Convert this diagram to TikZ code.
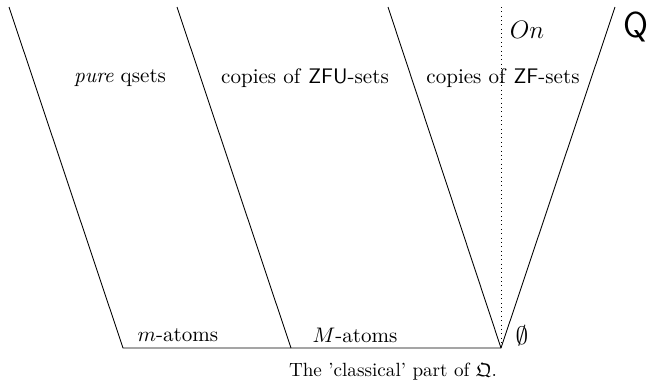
\documentclass[tikz,border=0pt]{standalone}
\usepackage{amssymb}
\begin{document}
\begin{tikzpicture}[x=0.0202cm,y=-0.0202cm,
  edge/.style={line width=0.5pt},
  lbl/.style={inner sep=0pt, scale=1.21},
  captionlbl/.style={inner sep=0pt, scale=1.1}]
\useasboundingbox (0,0) rectangle (650,381);
\coordinate (a1) at (9,7);
\coordinate (a2) at (123,348);
\coordinate (b1) at (177,7);
\coordinate (b2) at (291,348);
\coordinate (c1) at (388,7);
\coordinate (c2) at (501,348);
\coordinate (d1) at (615,7);
\coordinate (e1) at (501,7);
\draw[edge] (a1) -- (a2) -- (c2) -- (d1);
\draw[edge] (b1) -- (b2);
\draw[edge] (c1) -- (c2);
\draw[edge, dotted] (e1) -- (c2);
\node[lbl] (pq) at (120,78) {\textit{pure} qsets};
\node[lbl] (zfu) at (305,78) {copies of \textsf{ZFU}-sets};
\node[lbl] (zf) at (503,78) {copies of \textsf{ZF}-sets};
\node[lbl] (on) at (527,30) {\large $On$};
\node[inner sep=0pt] (q) at (636,27) {\huge\textsf{Q}};
\node[lbl] (ma) at (178,335) {$m$-atoms};
\node[lbl] (MA) at (355,335) {$M$-atoms};
\node[lbl] (es) at (522,336) {\large $\emptyset$};
\node[captionlbl] (captxt) at (393,372) {The 'classical' part of $\mathfrak{Q}$.};
\end{tikzpicture}
\end{document}
